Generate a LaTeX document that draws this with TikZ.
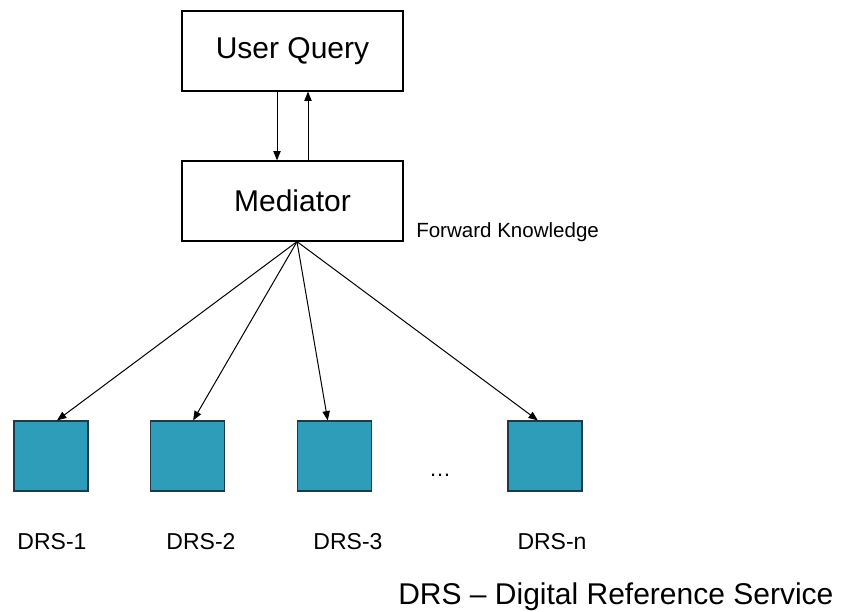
\documentclass[tikz,border=0pt]{standalone}
\usepackage{fontspec}
\setmainfont{Liberation Sans}
\usetikzlibrary{arrows.meta,calc}
\definecolor{drsfill}{HTML}{2E9DBA}
\definecolor{drsedge}{HTML}{1E3A48}
\begin{document}
\begin{tikzpicture}[
  x=0.75pt, y=-0.75pt,
  whitebox/.style={draw=black, line width=0.9pt, fill=white,
    minimum width=165.75pt, minimum height=60pt, inner sep=0pt,
    font=\fontsize{22.5}{27}\selectfont},
  drsbox/.style={draw=drsedge, line width=0.9pt, fill=drsfill,
    minimum width=55.5pt, minimum height=52.5pt, inner sep=0pt},
  drslabel/.style={inner sep=0pt, font=\fontsize{17.25}{20}\selectfont},
  arr/.style={draw=black, line width=0.75pt,
    -{Triangle[length=7pt,width=5.5pt]}}
]
\useasboundingbox (0,0) rectangle (856,611);
\fill[white] (0,0) rectangle (856,611);

% query and mediator
\node[whitebox] (uq)  at (292.5,51)  {User Query};
\node[whitebox] (med) at (292.5,201) {Mediator};

\draw[arr] ($(uq.south)+(-15.5,0)$) -- ($(med.north)+(-15.5,0)$);
\draw[arr] ($(med.north)+(15.5,0)$) -- ($(uq.south)+(15.5,0)$);

\node[anchor=base west, inner sep=0pt, font=\fontsize{15.4}{18}\selectfont]
  (fk) at (416,237) {Forward Knowledge};

% digital reference services
\node[drsbox] (d1) at (51,456)    {};
\node[drsbox] (d2) at (187.5,456) {};
\node[drsbox] (d3) at (334.5,456) {};
\node[drsbox] (dn) at (545,456)   {};

\node[inner sep=0pt, font=\fontsize{16.5}{20}\selectfont] (dots) at (440,475) {…};

\node[drslabel] (l1) at (52,542)  {DRS-1};
\node[drslabel] (l2) at (201,542) {DRS-2};
\node[drslabel] (l3) at (348,542) {DRS-3};
\node[drslabel] (ln) at (552,542) {DRS-n};

% fan-out from the mediator
\coordinate (fan) at ($(med.south)+(4.5,0)$);
\draw[arr] (fan) -- ($(d1.north west)!0.58!(d1.north east)$);
\draw[arr] (fan) -- ($(d2.north west)!0.575!(d2.north east)$);
\draw[arr] (fan) -- ($(d3.north west)!0.41!(d3.north east)$);
\draw[arr] (fan) -- ($(dn.north west)!0.405!(dn.north east)$);

\node[anchor=base west, inner sep=0pt, font=\fontsize{22.5}{27}\selectfont]
  (legend) at (398,604) {DRS – Digital Reference Service};
\end{tikzpicture}
\end{document}
